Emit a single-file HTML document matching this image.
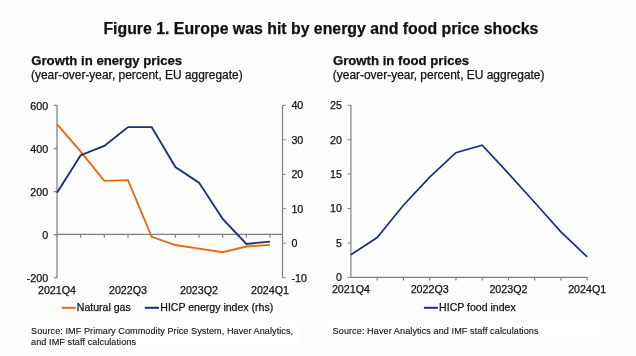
<!DOCTYPE html>
<html><head><meta charset="utf-8"><style>
html,body{margin:0;padding:0;background:#fdfdfd;width:636px;height:356px;overflow:hidden}
svg{display:block;will-change:transform;filter:blur(0.35px)}
text{font-family:"Liberation Sans",sans-serif;fill:#111;stroke:#111;stroke-width:0.25px}
</style></head><body>
<svg width="636" height="356" viewBox="0 0 636 356">
<rect width="636" height="356" fill="#fdfdfd"/>
<rect x="26" y="321.5" width="274" height="25.5" fill="#fff"/>
<rect x="328" y="321.5" width="272" height="17.5" fill="#fff"/>

<text x="320.9" y="33.7" font-size="15.85" font-weight="bold" text-anchor="middle">Figure 1. Europe was hit by energy and food price shocks</text>
<text x="31.2" y="64.5" font-size="13.2" font-weight="bold">Growth in energy prices</text>
<text x="31" y="79.1" font-size="11.95">(year-over-year, percent, EU aggregate)</text>
<text x="332.9" y="64.5" font-size="13.2" font-weight="bold">Growth in food prices</text>
<text x="332.8" y="79.1" font-size="11.95">(year-over-year, percent, EU aggregate)</text>
<line x1="57" y1="105.3" x2="57" y2="277.82" stroke="#a6a6a6" stroke-width="1.8"/>
<line x1="53.7" y1="105.3" x2="57" y2="105.3" stroke="#7f7f7f" stroke-width="1.2"/>
<text x="48.1" y="109.9" font-size="10.7" text-anchor="end">600</text>
<line x1="53.7" y1="148.4" x2="57" y2="148.4" stroke="#7f7f7f" stroke-width="1.2"/>
<text x="48.1" y="153.0" font-size="10.7" text-anchor="end">400</text>
<line x1="53.7" y1="191.6" x2="57" y2="191.6" stroke="#7f7f7f" stroke-width="1.2"/>
<text x="48.1" y="196.2" font-size="10.7" text-anchor="end">200</text>
<line x1="53.7" y1="234.7" x2="57" y2="234.7" stroke="#7f7f7f" stroke-width="1.2"/>
<text x="48.1" y="239.3" font-size="10.7" text-anchor="end">0</text>
<line x1="53.7" y1="277.8" x2="57" y2="277.8" stroke="#7f7f7f" stroke-width="1.2"/>
<text x="48.1" y="282.4" font-size="10.7" text-anchor="end">-200</text>
<line x1="282.5" y1="105.3" x2="282.5" y2="277.7" stroke="#7f7f7f" stroke-width="1.2"/>
<line x1="282.5" y1="105.3" x2="285.8" y2="105.3" stroke="#7f7f7f" stroke-width="1"/>
<text x="291.4" y="109.2" font-size="10.7">40</text>
<line x1="282.5" y1="139.8" x2="285.8" y2="139.8" stroke="#7f7f7f" stroke-width="1"/>
<text x="291.4" y="143.7" font-size="10.7">30</text>
<line x1="282.5" y1="174.3" x2="285.8" y2="174.3" stroke="#7f7f7f" stroke-width="1"/>
<text x="291.4" y="178.2" font-size="10.7">20</text>
<line x1="282.5" y1="208.7" x2="285.8" y2="208.7" stroke="#7f7f7f" stroke-width="1"/>
<text x="291.4" y="212.6" font-size="10.7">10</text>
<line x1="282.5" y1="243.2" x2="285.8" y2="243.2" stroke="#7f7f7f" stroke-width="1"/>
<text x="291.4" y="247.1" font-size="10.7">0</text>
<line x1="282.5" y1="277.7" x2="285.8" y2="277.7" stroke="#7f7f7f" stroke-width="1"/>
<text x="291.4" y="281.6" font-size="10.7">-10</text>
<line x1="57" y1="234.4" x2="282.5" y2="234.4" stroke="#7f7f7f" stroke-width="1.3"/>
<line x1="80.7" y1="234.4" x2="80.7" y2="237.8" stroke="#7f7f7f" stroke-width="1.2"/>
<line x1="104.3" y1="234.4" x2="104.3" y2="237.8" stroke="#7f7f7f" stroke-width="1.2"/>
<line x1="128.0" y1="234.4" x2="128.0" y2="237.8" stroke="#7f7f7f" stroke-width="1.2"/>
<line x1="151.7" y1="234.4" x2="151.7" y2="237.8" stroke="#7f7f7f" stroke-width="1.2"/>
<line x1="175.4" y1="234.4" x2="175.4" y2="237.8" stroke="#7f7f7f" stroke-width="1.2"/>
<line x1="199.0" y1="234.4" x2="199.0" y2="237.8" stroke="#7f7f7f" stroke-width="1.2"/>
<line x1="222.7" y1="234.4" x2="222.7" y2="237.8" stroke="#7f7f7f" stroke-width="1.2"/>
<line x1="246.4" y1="234.4" x2="246.4" y2="237.8" stroke="#7f7f7f" stroke-width="1.2"/>
<line x1="270.0" y1="234.4" x2="270.0" y2="237.8" stroke="#7f7f7f" stroke-width="1.2"/>
<text x="57.0" y="293.5" font-size="10.7" text-anchor="middle">2021Q4</text>
<text x="128.0" y="293.5" font-size="10.7" text-anchor="middle">2022Q3</text>
<text x="199.0" y="293.5" font-size="10.7" text-anchor="middle">2023Q2</text>
<text x="270.0" y="293.5" font-size="10.7" text-anchor="middle">2024Q1</text>
<polyline points="57.0,124.2 80.7,151.7 104.3,180.9 128.0,180.1 151.7,236.8 175.4,245.0 199.0,248.6 222.7,252.2 246.4,246.5 270.0,244.9" fill="none" stroke="#e8690f" stroke-width="1.85" stroke-linejoin="miter"/>
<polyline points="57.0,192.7 80.7,155.2 104.3,146.0 128.0,127.1 151.7,127.1 175.4,167.1 199.0,182.6 222.7,219.0 246.4,243.9 270.0,241.6" fill="none" stroke="#1a336f" stroke-width="1.9" stroke-linejoin="miter"/>
<line x1="61.7" y1="307.8" x2="75.6" y2="307.8" stroke="#e8690f" stroke-width="2"/>
<text x="76.8" y="311.2" font-size="10.55">Natural gas</text>
<line x1="144.8" y1="307.8" x2="159" y2="307.8" stroke="#1a336f" stroke-width="2"/>
<text x="160.3" y="311.2" font-size="10.55">HICP energy index (rhs)</text>
<text x="31.1" y="333.6" font-size="9.1" letter-spacing="0.064" style="stroke-width:0.12px">Source: IMF Primary Commodity Price System, Haver Analytics,</text>
<text x="31.1" y="344.7" font-size="9.1" letter-spacing="0.08" style="stroke-width:0.12px">and IMF staff calculations</text>
<line x1="350.9" y1="105.3" x2="350.9" y2="277.3" stroke="#7f7f7f" stroke-width="1.2"/>
<line x1="347.5" y1="105.3" x2="350.9" y2="105.3" stroke="#7f7f7f" stroke-width="1"/>
<text x="342" y="109.2" font-size="10.7" text-anchor="end">25</text>
<line x1="347.5" y1="139.7" x2="350.9" y2="139.7" stroke="#7f7f7f" stroke-width="1"/>
<text x="342" y="143.6" font-size="10.7" text-anchor="end">20</text>
<line x1="347.5" y1="174.1" x2="350.9" y2="174.1" stroke="#7f7f7f" stroke-width="1"/>
<text x="342" y="178.0" font-size="10.7" text-anchor="end">15</text>
<line x1="347.5" y1="208.5" x2="350.9" y2="208.5" stroke="#7f7f7f" stroke-width="1"/>
<text x="342" y="212.4" font-size="10.7" text-anchor="end">10</text>
<line x1="347.5" y1="242.9" x2="350.9" y2="242.9" stroke="#7f7f7f" stroke-width="1"/>
<text x="342" y="246.8" font-size="10.7" text-anchor="end">5</text>
<line x1="347.5" y1="277.3" x2="350.9" y2="277.3" stroke="#7f7f7f" stroke-width="1"/>
<text x="342" y="281.2" font-size="10.7" text-anchor="end">0</text>
<line x1="350.9" y1="277.3" x2="587.3" y2="277.3" stroke="#7f7f7f" stroke-width="1.3"/>
<line x1="377.2" y1="277.3" x2="377.2" y2="280.6" stroke="#7f7f7f" stroke-width="1.2"/>
<line x1="403.4" y1="277.3" x2="403.4" y2="280.6" stroke="#7f7f7f" stroke-width="1.2"/>
<line x1="429.7" y1="277.3" x2="429.7" y2="280.6" stroke="#7f7f7f" stroke-width="1.2"/>
<line x1="455.9" y1="277.3" x2="455.9" y2="280.6" stroke="#7f7f7f" stroke-width="1.2"/>
<line x1="482.2" y1="277.3" x2="482.2" y2="280.6" stroke="#7f7f7f" stroke-width="1.2"/>
<line x1="508.4" y1="277.3" x2="508.4" y2="280.6" stroke="#7f7f7f" stroke-width="1.2"/>
<line x1="534.7" y1="277.3" x2="534.7" y2="280.6" stroke="#7f7f7f" stroke-width="1.2"/>
<line x1="560.9" y1="277.3" x2="560.9" y2="280.6" stroke="#7f7f7f" stroke-width="1.2"/>
<line x1="587.2" y1="277.3" x2="587.2" y2="280.6" stroke="#7f7f7f" stroke-width="1.2"/>
<text x="350.9" y="293.2" font-size="10.7" text-anchor="middle">2021Q4</text>
<text x="429.7" y="293.2" font-size="10.7" text-anchor="middle">2022Q3</text>
<text x="508.4" y="293.2" font-size="10.7" text-anchor="middle">2023Q2</text>
<text x="587.2" y="293.2" font-size="10.7" text-anchor="middle">2024Q1</text>
<polyline points="350.9,254.8 377.2,237.5 403.4,205.2 429.7,177.1 455.9,152.7 482.2,145.1 508.4,173.3 534.7,202.5 560.9,231.9 587.2,256.9" fill="none" stroke="#1a336f" stroke-width="1.7" stroke-linejoin="miter"/>
<line x1="423.9" y1="307.8" x2="437.9" y2="307.8" stroke="#1a336f" stroke-width="2"/>
<text x="439.1" y="311.2" font-size="10.55">HICP food index</text>
<text x="332.6" y="333.6" font-size="9.1" letter-spacing="0.08" style="stroke-width:0.12px">Source: Haver Analytics and IMF staff calculations</text>
</svg></body></html>
